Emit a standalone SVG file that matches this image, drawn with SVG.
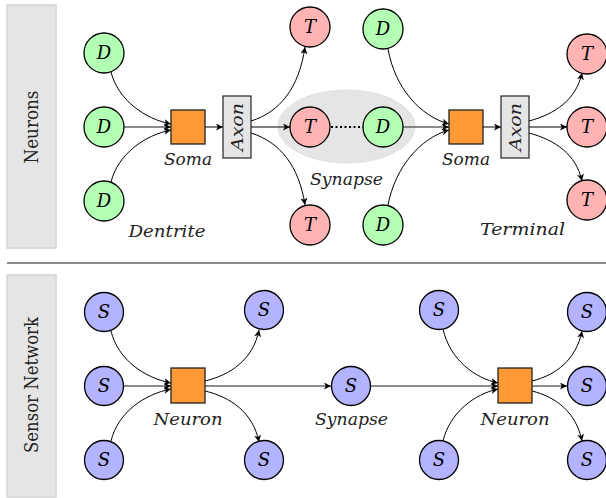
<svg xmlns="http://www.w3.org/2000/svg" width="606" height="498" viewBox="0 0 606 498">
<defs>
<marker id="arr" markerUnits="userSpaceOnUse" markerWidth="9" markerHeight="8" refX="7" refY="3.5" orient="auto">
<path d="M0,0 L7,3.5 L0,7 L1.8,3.5 z" fill="#000"/>
</marker>
</defs>
<rect width="606" height="498" fill="#fff"/>
<g fill="#e5e5e5" stroke="#d4d4d4" stroke-width="1.5">
<rect x="7" y="5" width="49" height="243"/>
<rect x="7" y="275" width="49" height="222"/>
</g>
<text font-family="DejaVu Serif" font-size="18" fill="#222" text-anchor="middle" transform="translate(38,127) rotate(-90)" textLength="73" lengthAdjust="spacingAndGlyphs">Neurons</text>
<text font-family="DejaVu Serif" font-size="18" fill="#222" text-anchor="middle" transform="translate(38,385) rotate(-90)" textLength="136" lengthAdjust="spacingAndGlyphs">Sensor Network</text>
<line x1="7" y1="263" x2="606" y2="263" stroke="#666" stroke-width="1.6"/>

<g id="synapse-area">
<ellipse cx="346.5" cy="126.5" rx="68.5" ry="36.5" fill="#e5e5e5" stroke="#d0d0d0" stroke-width="1" stroke-dasharray="1.5,1.5"/>
</g>

<g id="connectors" fill="none" marker-end="url(#arr)">
<g stroke="#000" stroke-width="1">
<path d="M111,72 C118,100 145,119 171,124"/>
<path d="M111,182 C118,154 145,135 171,130"/>
<path d="M205,127 L223,127"/>
<path d="M251,121 C280,112 299,88 305,47"/>
<path d="M251,127 L290,127"/>
<path d="M251,133 C280,142 299,166 305,205"/>
<path d="M388,49 C395,88 420,116 449,124"/>
<path d="M388,205 C395,168 420,138 449,130"/>
<path d="M483,127 L501,127"/>
<path d="M529,121 C555,114 576,100 582,73"/>
<path d="M529,127 L567,127"/>
<path d="M529,133 C555,140 576,154 582,181"/>
<path d="M111,331 C118,360 145,378 171,383"/>
<path d="M111,441 C118,412 145,394 171,389"/>
<path d="M205,381 C230,375 253,360 259,330"/>
<path d="M205,391 C230,397 253,412 259,442"/>
<path d="M443,329 C450,360 475,378 498,383"/>
<path d="M443,441 C450,412 475,394 498,389"/>
<path d="M532,381 C556,375 576,360 582,331"/>
<path d="M532,391 C556,397 576,412 582,441"/>
</g>
<g stroke="#666" stroke-width="1.6">
<path d="M124,127 L171,127"/>
<path d="M403,127 L449,127"/>
<path d="M124,386 L171,386"/>
<path d="M205,386 L331,386"/>
<path d="M371,386 L498,386"/>
<path d="M532,386 L567,386"/>
</g>
<line x1="331" y1="127" x2="363" y2="127" stroke="#000" stroke-width="2" stroke-dasharray="2,2.5" marker-end="none"/>
</g>

<g stroke="#000" stroke-width="1.3">
<g fill="#b3ffb3">
<circle id="d1" cx="104" cy="53" r="20"/><circle id="d2" cx="104" cy="127" r="20"/><circle id="d3" cx="104" cy="201" r="20"/>
<circle id="d4" cx="383" cy="127" r="20"/><circle id="d5" cx="383" cy="29" r="20"/><circle id="d6" cx="383" cy="225" r="20"/>
</g>
<g fill="#ffb3b3">
<circle id="t1" cx="310" cy="27" r="20"/><circle id="t2" cx="310" cy="127" r="20"/><circle id="t3" cx="310" cy="225" r="20"/>
<circle id="t4" cx="587" cy="54" r="20"/><circle id="t5" cx="587" cy="127" r="20"/><circle id="t6" cx="587" cy="200" r="20"/>
</g>
<g fill="#b3b3ff">
<circle id="s1" cx="104" cy="312" r="19.5"/><circle id="s2" cx="104" cy="386" r="19.5"/><circle id="s3" cx="104" cy="460" r="19.5"/>
<circle id="s4" cx="264" cy="310" r="19.5"/><circle id="s5" cx="264" cy="460" r="19.5"/><circle id="s6" cx="351" cy="386" r="19.5"/>
<circle id="s7" cx="439" cy="310" r="19.5"/><circle id="s8" cx="439" cy="460" r="19.5"/>
<circle id="s9" cx="587" cy="312" r="19.5"/><circle id="s10" cx="587" cy="386" r="19.5"/><circle id="s11" cx="587" cy="460" r="19.5"/>
</g>
<g fill="#fd9a35" stroke="#222">
<rect id="soma1" x="171" y="110" width="34" height="34"/>
<rect id="soma2" x="449" y="110" width="34" height="34"/>
<rect id="neuron1" x="171" y="368" width="34" height="35"/>
<rect id="neuron2" x="498" y="368" width="34" height="35"/>
</g>
<g fill="#e5e5e5" stroke="#222" stroke-width="1.2">
<rect id="axon1" x="223" y="96" width="28" height="62"/>
<rect id="axon2" x="501" y="96" width="28" height="62"/>
</g>
</g>

<g font-family="DejaVu Serif" font-style="italic" font-size="18" text-anchor="middle" fill="#000">
<text x="104" y="59">D</text><text x="104" y="133">D</text><text x="104" y="207">D</text>
<text x="383" y="133">D</text><text x="383" y="35">D</text><text x="383" y="231">D</text>
<text x="310" y="33">T</text><text x="310" y="133">T</text><text x="310" y="231">T</text>
<text x="587" y="60">T</text><text x="587" y="133">T</text><text x="587" y="206">T</text>
<text x="104" y="318">S</text><text x="104" y="392">S</text><text x="104" y="466">S</text>
<text x="264" y="316">S</text><text x="264" y="466">S</text><text x="351" y="392">S</text>
<text x="439" y="316">S</text><text x="439" y="466">S</text>
<text x="587" y="318">S</text><text x="587" y="392">S</text><text x="587" y="466">S</text>
</g>
<g font-family="DejaVu Serif" font-style="italic" font-size="17" text-anchor="middle" fill="#222">
<text x="188" y="165" textLength="48" lengthAdjust="spacingAndGlyphs">Soma</text>
<text transform="translate(243,127) rotate(-90)" textLength="48" lengthAdjust="spacingAndGlyphs">Axon</text>
<text x="167" y="237" textLength="77" lengthAdjust="spacingAndGlyphs">Dentrite</text>
<text x="346.5" y="185" textLength="73" lengthAdjust="spacingAndGlyphs">Synapse</text>
<text x="466" y="165" textLength="48" lengthAdjust="spacingAndGlyphs">Soma</text>
<text transform="translate(521,127) rotate(-90)" textLength="48" lengthAdjust="spacingAndGlyphs">Axon</text>
<text x="522.5" y="235" textLength="85" lengthAdjust="spacingAndGlyphs">Terminal</text>
<text x="188" y="425" textLength="69" lengthAdjust="spacingAndGlyphs">Neuron</text>
<text x="351.5" y="425" textLength="73" lengthAdjust="spacingAndGlyphs">Synapse</text>
<text x="515" y="425" textLength="69" lengthAdjust="spacingAndGlyphs">Neuron</text>
</g>
</svg>
